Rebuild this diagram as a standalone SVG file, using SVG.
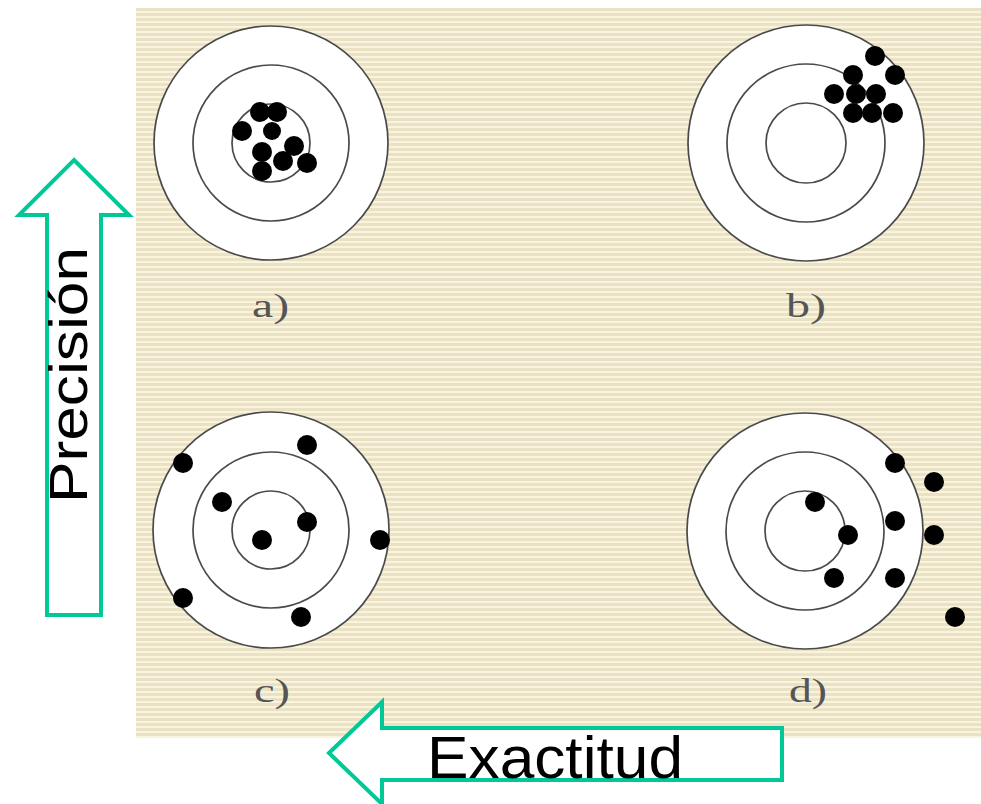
<svg xmlns="http://www.w3.org/2000/svg" width="981" height="804" viewBox="0 0 981 804">
  <defs>
    <pattern id="stripes" x="0" y="8" width="10" height="5" patternUnits="userSpaceOnUse">
      <rect width="10" height="5" fill="#ebe2c5"/>
      <rect y="3" width="10" height="2" fill="#f9f4de"/>
    </pattern>
  </defs>
  <style>
    .ring { fill: none; stroke: #4a4a4a; stroke-width: 1.7; }
    .face { fill: #ffffff; stroke: #4a4a4a; stroke-width: 1.7; }
    .shot { fill: #000000; }
    .tag { font-family: "Liberation Serif", "Times New Roman", serif; font-size: 33px; fill: #555555; }
    .arrow { fill: #ffffff; stroke: #00c896; stroke-width: 4; stroke-linejoin: miter; }
    .axis { font-family: "Liberation Sans", Arial, sans-serif; fill: #000000; }
  </style>

  <rect width="981" height="804" fill="#ffffff"/>
  <!-- striped backdrop -->
  <rect x="136" y="8" width="845" height="730" fill="url(#stripes)"/>

  <!-- target a: precise and accurate -->
  <g id="target-a">
    <circle class="face" cx="271" cy="143" r="117"/>
    <circle class="ring" cx="271" cy="143" r="78"/>
    <circle class="ring" cx="271" cy="143" r="39"/>
    <circle class="shot" cx="260" cy="112" r="10"/>
    <circle class="shot" cx="277" cy="112" r="10"/>
    <circle class="shot" cx="242" cy="131" r="10"/>
    <circle class="shot" cx="272" cy="131" r="9"/>
    <circle class="shot" cx="294" cy="146" r="10"/>
    <circle class="shot" cx="262" cy="152" r="10"/>
    <circle class="shot" cx="283" cy="161" r="10"/>
    <circle class="shot" cx="307" cy="163" r="10"/>
    <circle class="shot" cx="262" cy="171" r="10"/>
    <text class="tag" x="252" y="317" textLength="37" lengthAdjust="spacingAndGlyphs">a)</text>
  </g>

  <!-- target b: precise, not accurate -->
  <g id="target-b">
    <circle class="face" cx="806" cy="143" r="118"/>
    <circle class="ring" cx="806" cy="143" r="79"/>
    <circle class="ring" cx="806" cy="143" r="40"/>
    <circle class="shot" cx="875" cy="56" r="10"/>
    <circle class="shot" cx="853" cy="75" r="10"/>
    <circle class="shot" cx="895" cy="75" r="10"/>
    <circle class="shot" cx="834" cy="94" r="10"/>
    <circle class="shot" cx="856" cy="94" r="10"/>
    <circle class="shot" cx="876" cy="94" r="10"/>
    <circle class="shot" cx="853" cy="113" r="10"/>
    <circle class="shot" cx="872" cy="113" r="10"/>
    <circle class="shot" cx="893" cy="113" r="10"/>
    <text class="tag" x="786" y="317" textLength="40" lengthAdjust="spacingAndGlyphs">b)</text>
  </g>

  <!-- target c: accurate on average, not precise -->
  <g id="target-c">
    <circle class="face" cx="271" cy="530" r="118"/>
    <circle class="ring" cx="271" cy="530" r="78"/>
    <circle class="ring" cx="271" cy="530" r="39"/>
    <circle class="shot" cx="307" cy="445" r="10"/>
    <circle class="shot" cx="183" cy="463" r="10"/>
    <circle class="shot" cx="222" cy="502" r="10"/>
    <circle class="shot" cx="307" cy="522" r="10"/>
    <circle class="shot" cx="262" cy="540" r="10"/>
    <circle class="shot" cx="380" cy="540" r="10"/>
    <circle class="shot" cx="183" cy="598" r="10"/>
    <circle class="shot" cx="301" cy="617" r="10"/>
    <text class="tag" x="254" y="702" textLength="36" lengthAdjust="spacingAndGlyphs">c)</text>
  </g>

  <!-- target d: neither precise nor accurate -->
  <g id="target-d">
    <circle class="face" cx="805" cy="531" r="118"/>
    <circle class="ring" cx="805" cy="531" r="79"/>
    <circle class="ring" cx="805" cy="531" r="40"/>
    <circle class="shot" cx="895" cy="463" r="10"/>
    <circle class="shot" cx="934" cy="482" r="10"/>
    <circle class="shot" cx="815" cy="502" r="10"/>
    <circle class="shot" cx="895" cy="521" r="10"/>
    <circle class="shot" cx="934" cy="535" r="10"/>
    <circle class="shot" cx="848" cy="535" r="10"/>
    <circle class="shot" cx="834" cy="578" r="10"/>
    <circle class="shot" cx="895" cy="578" r="10"/>
    <circle class="shot" cx="955" cy="617" r="10"/>
    <text class="tag" x="789" y="702" textLength="38" lengthAdjust="spacingAndGlyphs">d)</text>
  </g>

  <!-- axis arrows -->
  <g id="connectors">
    <g id="axis-precision">
      <polygon class="arrow" points="74,160 129,215 101,215 101,615 47,615 47,215 19,215"/>
      <text class="axis" font-size="54" transform="translate(87,503) rotate(-90)" textLength="256" lengthAdjust="spacingAndGlyphs">Precisión</text>
    </g>
    <g id="axis-exactitud">
      <polygon class="arrow" points="329,753 382,702 382,728 782,728 782,780 382,780 382,804"/>
      <text class="axis" font-size="60" x="427" y="778" textLength="256" lengthAdjust="spacingAndGlyphs">Exactitud</text>
    </g>
  </g>
</svg>
